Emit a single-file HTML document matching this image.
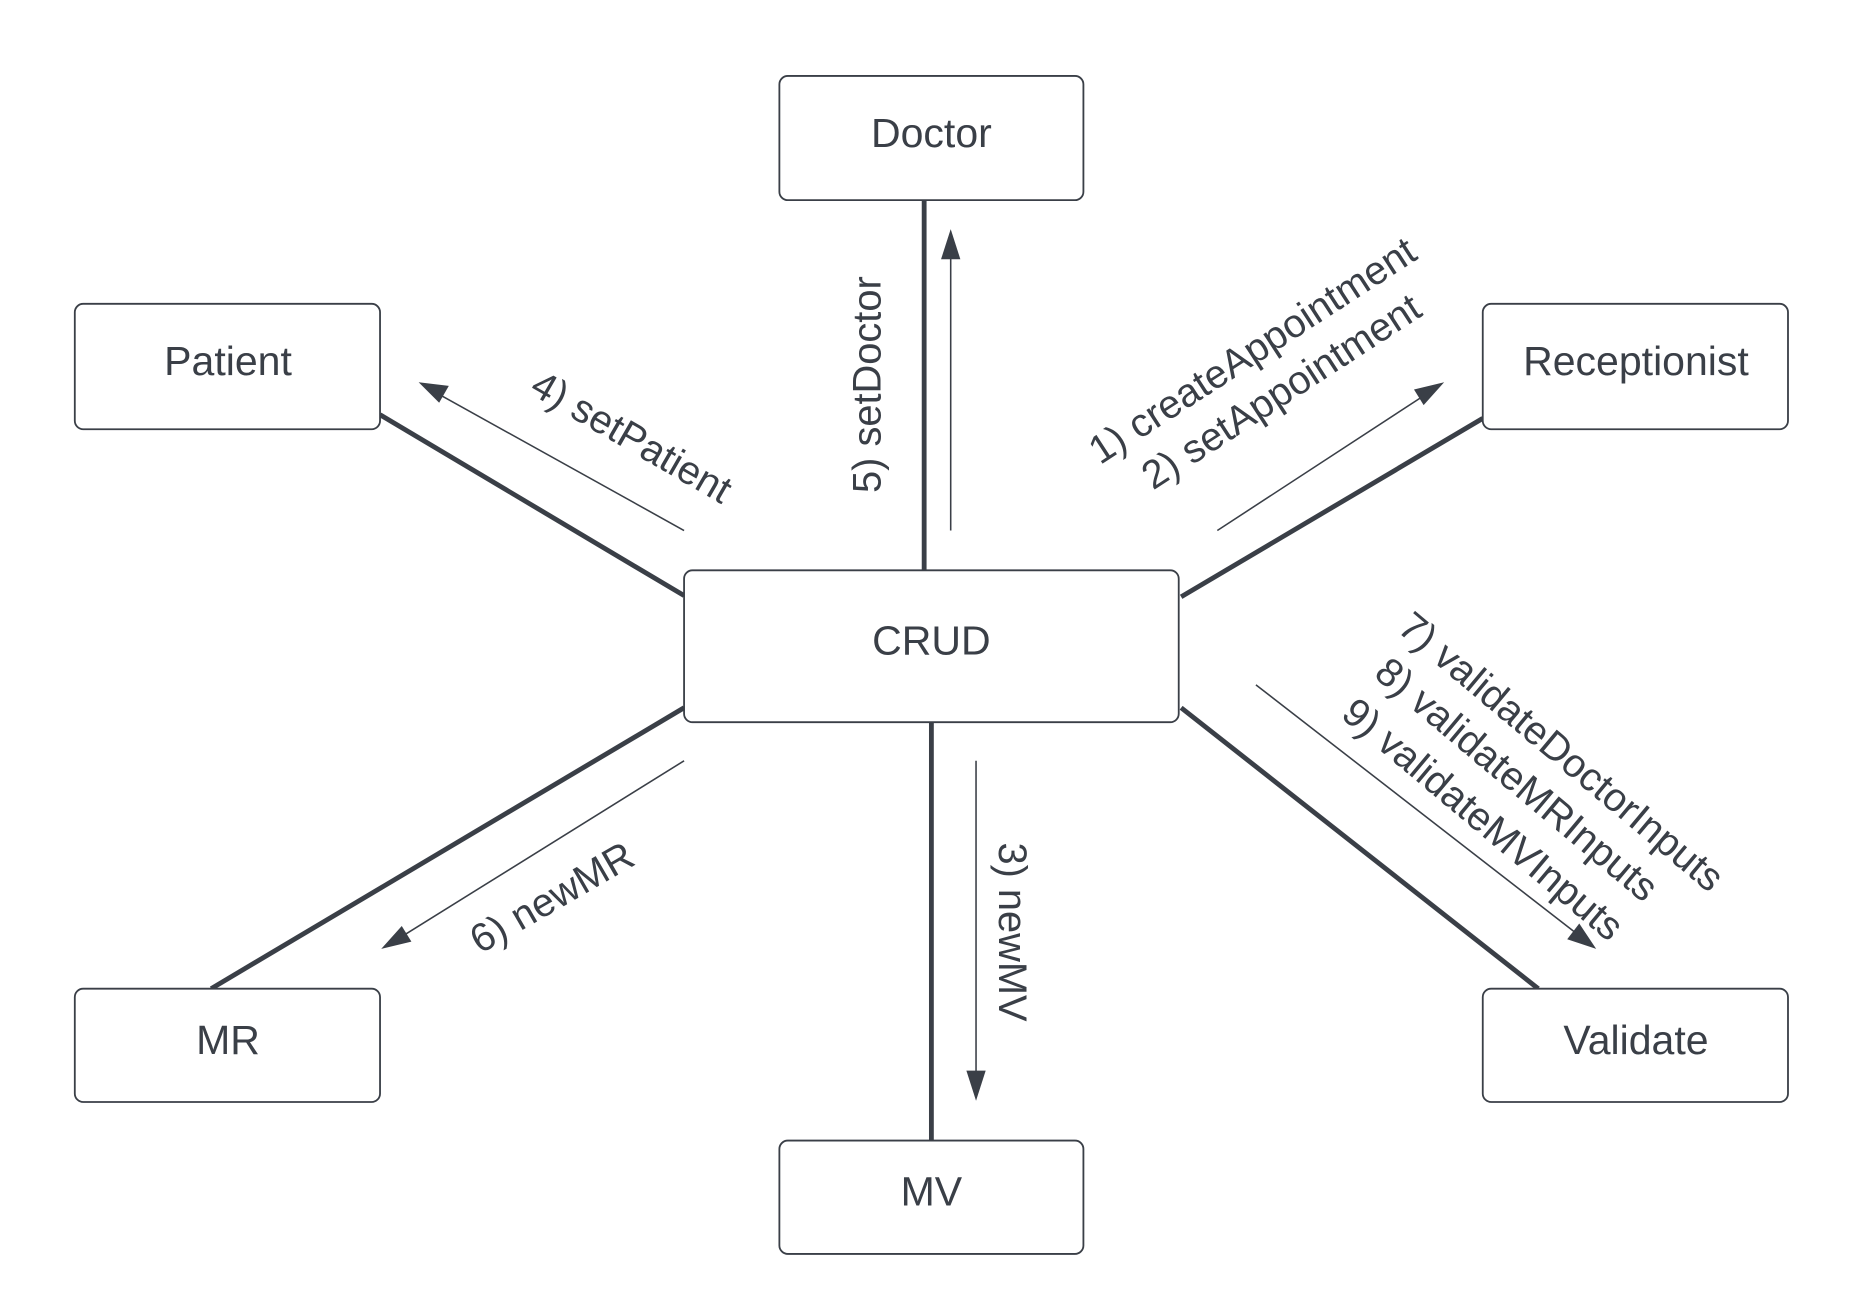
<!DOCTYPE html>
<html><head><meta charset="utf-8"><style>
html,body{margin:0;padding:0;background:#fff;}
svg{display:block;}
text{font-family:"Liberation Sans",sans-serif;fill:#3a3f47;}
</style></head><body>
<svg width="1864" height="1313" viewBox="0 0 1545 1089" preserveAspectRatio="none" xmlns="http://www.w3.org/2000/svg">
<g stroke="#3a3f47" stroke-width="4" fill="none">
<line x1="766" y1="166" x2="766" y2="473"/>
<line x1="315" y1="344" x2="567" y2="494"/>
<line x1="1229" y1="347" x2="979" y2="495"/>
<line x1="567" y1="587" x2="175" y2="820"/>
<line x1="979" y1="587" x2="1275" y2="820"/>
<line x1="772" y1="599" x2="772" y2="946"/>
</g>
<g stroke="#3a3f47" stroke-width="1.3" fill="none">
<line x1="788" y1="440" x2="788" y2="210"/>
<line x1="567" y1="440" x2="362" y2="326"/>
<line x1="1009" y1="440" x2="1182" y2="327"/>
<line x1="567" y1="631" x2="331" y2="778"/>
<line x1="1041" y1="568" x2="1309" y2="776"/>
<line x1="809" y1="631" x2="809" y2="895"/>
</g>
<g fill="#3a3f47">
<polygon points="788,190 780,215 796,215"/>
<polygon points="347,317 372,320 364,334"/>
<polygon points="1197,317 1180,336 1172,323"/>
<polygon points="316,787 333,768 341,781"/>
<polygon points="1323,787 1299,779 1309,766"/>
<polygon points="809,913 801,888 817,888"/>
</g>
<g fill="#fff" stroke="#3a3f47" stroke-width="1.5">
<rect x="646" y="63" width="252" height="103" rx="7"/>
<rect x="62" y="252" width="253" height="104" rx="7"/>
<rect x="1229" y="252" width="253" height="104" rx="7"/>
<rect x="567" y="473" width="410" height="126" rx="7"/>
<rect x="62" y="820" width="253" height="94" rx="7"/>
<rect x="1229" y="820" width="253" height="94" rx="7"/>
<rect x="646" y="946" width="252" height="94" rx="7"/>
</g>
<g font-size="34" text-anchor="middle">
<text x="772" y="122">Doctor</text>
<text x="189" y="311">Patient</text>
<text x="1356" y="311">Receptionist</text>
<text x="772" y="543">CRUD</text>
<text x="189" y="874">MR</text>
<text x="1356" y="874">Validate</text>
<text x="772" y="1000">MV</text>
</g>
<g font-size="33" text-anchor="middle">
<text transform="translate(730,319) rotate(-90)">5) setDoctor</text>
<text transform="translate(518,372) rotate(30)">4) setPatient</text>
<text transform="translate(1044,300) rotate(-33)">1) createAppointment</text>
<text transform="translate(1068,334) rotate(-33)">2) setAppointment</text>
<text transform="translate(463,754) rotate(-30)">6) newMR</text>
<text transform="translate(828,773) rotate(90)">3) newMV</text>
<text transform="translate(1287,632) rotate(40)">7) validateDoctorInputs</text>
<text transform="translate(1250,655) rotate(40)">8) validateMRInputs</text>
<text transform="translate(1222,688) rotate(40)">9) validateMVInputs</text>
</g>
</svg>
</body></html>
